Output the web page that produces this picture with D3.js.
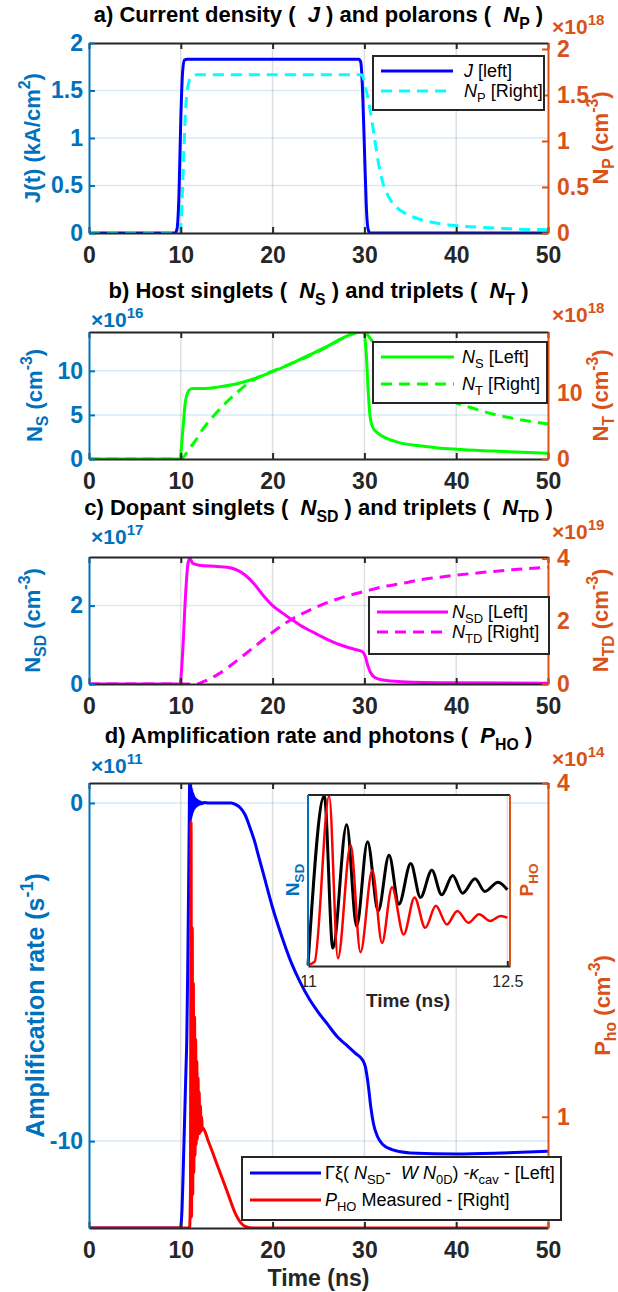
<!DOCTYPE html>
<html>
<head>
<meta charset="utf-8">
<script src="https://cdn.jsdelivr.net/npm/d3@7"></script>
<style>
    body { margin: 0; background: #fff; }
    svg { display: block; font-family: "Liberation Sans", Arial, sans-serif; }
    text { white-space: pre; }
</style>
</head>
<body>
<svg id="fig" width="618" height="1292"></svg>
<script>

// ---------- data (time in ns) ----------
const timeLimits = [0, 50];
const timeTicks = [0, 10, 20, 30, 40, 50];

// a) current density [kA/cm2] and polarons [1e18 cm-3]
const jLimits = [0, 2], jTicks = [0, 0.5, 1, 1.5, 2];
const npLimits = [0, 2.065], npTicks = [0, 0.5, 1, 1.5, 2];
const jCurrent = [[0, 0], [9.4, 0], [9.6, 0.05], [9.8, 0.4], [10.0, 1.2], [10.2, 1.7], [10.4, 1.82], [10.7, 1.83],
    [29.4, 1.83], [29.6, 1.8], [29.8, 1.5], [30.0, 0.9], [30.2, 0.3], [30.4, 0.04], [30.6, 0], [50, 0]];
const npPolarons = [[0, 0], [9.9, 0], [10.1, 0.25], [10.3, 0.8], [10.5, 1.3], [10.7, 1.55], [10.9, 1.65], [11.2, 1.7],
    [11.8, 1.72], [29.7, 1.72], [29.9, 1.68], [30.2, 1.55], [30.6, 1.35], [31.0, 1.1], [31.5, 0.78], [32.0, 0.55],
    [32.6, 0.4], [33.5, 0.28], [34.5, 0.21], [36, 0.15], [38, 0.105], [40, 0.08], [43, 0.06], [46, 0.045], [50, 0.035]];

// b) host singlets [1e16] and triplets [1e18]
const nsLimits = [0, 14.4], nsTicks = [0, 5, 10];
const ntLimits = [0, 19.2], ntTicks = [0, 10];
const nsSinglets = [[0, 0], [9.9, 0], [10.2, 3], [10.5, 6.5], [10.9, 7.8], [11.3, 8.0], [12.5, 8.0], [14, 8.15],
    [16, 8.5], [18, 9.1], [20, 9.9], [22, 10.8], [24, 11.8], [26, 12.8], [28, 13.9], [29.3, 14.4], [29.9, 14.4],
    [30.2, 12], [30.4, 8], [30.6, 5], [30.9, 3.6], [31.5, 2.9], [32.5, 2.3], [34, 1.8], [36, 1.5], [38, 1.25],
    [40, 1.1], [44, 0.9], [50, 0.65]];
const ntTriplets = [[0, 0], [10.0, 0], [10.3, 0.3], [10.8, 1.3], [11.5, 2.6], [12.5, 4.7], [13.5, 6.4], [14.7, 8.2],
    [16, 9.9], [17.5, 11.6], [19, 12.7], [20, 13.3], [22, 14.4], [24, 15.6], [26, 17.0], [28, 18.45], [29.5, 19.15],
    [30, 19.1], [31, 17.6], [32, 16.2], [34, 13.8], [36, 11.8], [38, 10.0], [40, 8.5], [42, 7.6], [44, 6.8],
    [46, 6.2], [48, 5.7], [50, 5.3]];

// c) dopant singlets [1e17] and triplets [1e19]
const nsdLimits = [0, 3.24], nsdTicks = [0, 2];
const ntdLimits = [0, 4.05], ntdTicks = [0, 2, 4];
const nsdSinglets = [[0, 0], [9.9, 0], [10.2, 0.8], [10.5, 2.2], [10.8, 3.1], [11, 3.2], [11.3, 3.08], [12, 3.03],
    [14, 3.0], [15.5, 2.96], [16.2, 2.9], [17, 2.78], [18, 2.55], [19, 2.25], [20, 2.0], [21, 1.82], [22, 1.66],
    [23, 1.5], [24, 1.37], [25, 1.25], [26, 1.13], [27, 1.03], [28, 0.95], [29, 0.88], [29.8, 0.82], [30.1, 0.7],
    [30.4, 0.45], [30.7, 0.28], [31.1, 0.17], [32, 0.1], [34, 0.06], [40, 0.03], [50, 0.02]];
const ntdTriplets = [[0, 0], [11.8, 0], [12.5, 0.08], [14, 0.3], [15.2, 0.54], [17, 0.95], [18.5, 1.3], [20, 1.65],
    [22, 2.05], [24, 2.35], [26, 2.6], [28, 2.8], [30, 2.95], [32, 3.1], [34, 3.2], [36, 3.32], [38, 3.4],
    [40, 3.47], [43, 3.56], [46, 3.64], [50, 3.72]];

// d) amplification rate [1e11 s-1] and photons [1e14 cm-3]
const ampLimits = [-12.57, 0.59], ampTicks = [-10, 0];
const phoLimits = [0, 4], phoTicks = [1, 4];
const ampRate = [[0, -12.57], [9.95, -12.57], [10.1, -12.2], [10.25, -11], [10.4, -9.5], [10.55, -8], [10.65, -7],
    [10.75, -5], [10.85, -2.5], [10.92, -0.5], [10.96, 0.59], [10.99, -0.55], [11.02, 0.59], [11.05, -0.5],
    [11.08, 0.55], [11.11, -0.45], [11.14, 0.45], [11.17, -0.38], [11.2, 0.38], [11.24, -0.3], [11.28, 0.3],
    [11.32, -0.25], [11.36, 0.25], [11.4, -0.2], [11.45, 0.2], [11.5, -0.16], [11.55, 0.15], [11.6, -0.12],
    [11.66, 0.11], [11.72, -0.09], [11.8, 0.08], [11.88, -0.06], [11.96, 0.05], [12.05, -0.04], [12.15, 0.03],
    [12.3, -0.02], [12.5, 0.01], [13, 0], [15.5, 0], [16, -0.05], [16.5, -0.15], [17, -0.35], [17.5, -0.7],
    [18, -1.1], [18.5, -1.6], [19, -2.1], [20, -3.1], [21, -3.95], [22, -4.7], [23, -5.3], [24, -5.8], [25, -6.2],
    [26, -6.55], [27, -6.9], [28, -7.15], [29, -7.4], [29.8, -7.6], [30.1, -7.8], [30.4, -8.3], [30.7, -9.0],
    [31, -9.5], [31.4, -9.85], [32, -10.1], [33, -10.25], [35, -10.35], [40, -10.38], [45, -10.35], [50, -10.3]];
const phoPhotons = [[0, 0], [10.95, 0], [11.05, 0.3], [11.12, 3.65], [11.17, 0.1], [11.25, 2.7], [11.3, 0.3],
    [11.37, 2.2], [11.42, 0.5], [11.5, 1.9], [11.55, 0.65], [11.62, 1.7], [11.68, 0.75], [11.75, 1.5], [11.8, 0.8],
    [11.88, 1.35], [11.94, 0.85], [12.0, 1.22], [12.07, 0.85], [12.14, 1.1], [12.2, 0.87], [12.28, 1.0],
    [12.34, 0.88], [12.4, 0.9], [13, 0.78], [14, 0.56], [15, 0.34], [16, 0.12], [16.5, 0.05], [17, 0.015],
    [18, 0], [50, 0]];

// inset: 11 - 12.5 ns, normalised
const insetTimeLimits = [11, 12.52];
const insetTicks = [11, 12.5];
const insetNsd = [[11, 0], [11.123, 1.0], [11.187, 0.1], [11.291, 0.83], [11.366, 0.23], [11.448, 0.73],
    [11.528, 0.32], [11.61, 0.65], [11.684, 0.36], [11.773, 0.6], [11.846, 0.4], [11.932, 0.56], [12.006, 0.415],
    [12.089, 0.53], [12.163, 0.425], [12.257, 0.51], [12.331, 0.435], [12.43, 0.49], [12.5, 0.445]];
const insetPho = [[11, 0], [11.05, 0.02], [11.159, 1.0], [11.225, 0.04], [11.321, 0.71], [11.395, 0.076],
    [11.484, 0.56], [11.557, 0.13], [11.632, 0.46], [11.72, 0.18], [11.802, 0.40], [11.882, 0.22], [11.962, 0.35],
    [12.045, 0.24], [12.124, 0.32], [12.207, 0.25], [12.287, 0.30], [12.37, 0.26], [12.449, 0.29], [12.5, 0.28]];


// ---------- drawing ----------
const BLUE = "#0072BD", ORANGE = "#D95319", DARK = "#262626";
const svg = d3.select("#fig");
const x = d3.scaleLinear().domain(timeLimits).range([89, 548]);

// text with italic / sub / sup pieces
function rich(sel, parts, size) {
    let shift = 0;
    parts.forEach(([txt, mode]) => {
        const ts = sel.append("tspan").text(txt);
        let target = 0;
        if (mode === "sub") target = size * 0.3;
        if (mode === "sup") target = -size * 0.42;
        ts.attr("dy", target - shift);
        shift = target;
        if (mode === "sub" || mode === "sup") ts.attr("font-size", size * 0.72);
        if (mode === "i") ts.attr("font-style", "italic");
    });
    return sel;
}

function vlabel(g, cx, cy, parts, size, color) {
    const t = g.append("text")
        .attr("transform", `translate(${cx},${cy}) rotate(-90)`)
        .attr("x", 0).attr("y", size * 0.35)
        .attr("text-anchor", "middle")
        .attr("font-size", size).attr("font-weight", "bold").attr("fill", color);
    rich(t, parts, size);
}

function styleAxis(ax, color, size) {
    ax.attr("font-size", null).attr("font-family", null);
    ax.select(".domain").attr("stroke", color).attr("stroke-width", 2);
    ax.selectAll(".tick line").attr("stroke", color).attr("stroke-width", 2);
    ax.selectAll(".tick text").attr("fill", color).attr("font-size", size).attr("font-weight", "bold");
}

const sub = (a, b) => [[a, ""], [b, "sub"]];
const cm3 = [[" (cm", ""], ["-3", "sup"], [")", ""]];

const panels = [
    {
        key: "a", top: 43, bottom: 233, titleY: 22,
        title: [["a) Current density (  ", ""], ["J", "i"], [" ) and polarons (  ", ""], ["N", "i"], ["P", "sub"], [" )", ""]],
        left: {lim: jLimits, ticks: jTicks, label: [["J(t) (kA/cm", ""], ["2", "sup"], [")", ""]], lx: 32, size: 22},
        right: {lim: npLimits, ticks: npTicks, label: sub("N", "P").concat(cm3), lx: 600, exp: "18", ey: 34},
        series: [
            {data: jCurrent, axis: "L", color: "#0000FF", label: [["J", "i"], [" [left]", ""]]},
            {data: npPolarons, axis: "R", color: "#00FFFF", dash: true, label: [["N", "i"], ["P", "sub"], [" [Right]", ""]]}
        ],
        legend: {x0: 373, x1: 544, y0: 56, y1: 110, rows: [71, 91], sx0: 381, sx1: 453, tx: 464}
    },
    {
        key: "b", top: 332, bottom: 459, titleY: 298,
        title: [["b) Host singlets (  ", ""], ["N", "i"], ["S", "sub"], [" ) and triplets (  ", ""], ["N", "i"], ["T", "sub"], [" )", ""]],
        left: {lim: nsLimits, ticks: nsTicks, label: sub("N", "S").concat(cm3), lx: 34, size: 22, exp: "16", ey: 327},
        right: {lim: ntLimits, ticks: ntTicks, label: sub("N", "T").concat(cm3), lx: 600, exp: "18", ey: 322},
        series: [
            {data: nsSinglets, axis: "L", color: "#00FF00", label: [["N", "i"], ["S", "sub"], [" [Left]", ""]]},
            {data: ntTriplets, axis: "R", color: "#00FF00", dash: true, label: [["N", "i"], ["T", "sub"], [" [Right]", ""]]}
        ],
        legend: {x0: 373, x1: 547, y0: 342, y1: 403, rows: [357, 384], sx0: 381, sx1: 454, tx: 462}
    },
    {
        key: "c", top: 557, bottom: 684, titleY: 515,
        title: [["c) Dopant singlets (  ", ""], ["N", "i"], ["SD", "sub"], [" ) and triplets (  ", ""], ["N", "i"], ["TD", "sub"], [" )", ""]],
        left: {lim: nsdLimits, ticks: nsdTicks, label: sub("N", "SD").concat(cm3), lx: 32, size: 22, exp: "17", ey: 544},
        right: {lim: ntdLimits, ticks: ntdTicks, label: sub("N", "TD").concat(cm3), lx: 600, exp: "19", ey: 539},
        series: [
            {data: nsdSinglets, axis: "L", color: "#FF00FF", label: [["N", "i"], ["SD", "sub"], [" [Left]", ""]]},
            {data: ntdTriplets, axis: "R", color: "#FF00FF", dash: true, label: [["N", "i"], ["TD", "sub"], [" [Right]", ""]]}
        ],
        legend: {x0: 369, x1: 549, y0: 597, y1: 654, rows: [612, 632], sx0: 377, sx1: 448, tx: 452}
    },
    {
        key: "d", top: 783, bottom: 1228, titleY: 743,
        title: [["d) Amplification rate and photons (  ", ""], ["P", "i"], ["HO", "sub"], [" )", ""]],
        left: {lim: ampLimits, ticks: ampTicks, label: [["Amplification rate (s", ""], ["-1", "sup"], [")", ""]], lx: 35, size: 25, exp: "11", ey: 773},
        right: {lim: phoLimits, ticks: phoTicks, label: sub("P", "ho").concat(cm3), lx: 602, exp: "14", ey: 766},
        series: [
            {data: ampRate, axis: "L", color: "#0000FF",
                label: [["Γξ( ", ""], ["N", "i"], ["SD", "sub"], ["-  ", ""], ["W", "i"], [" ", ""], ["N", "i"], ["0D", "sub"],
                    [") -", ""], ["κ", "i"], ["cav", "sub"], [" - [Left]", ""]]},
            {data: phoPhotons, axis: "R", color: "#FF0000", label: [["P", "i"], ["HO", "sub"], [" Measured - [Right]", ""]]}
        ],
        legend: {x0: 242, x1: 561, y0: 1157, y1: 1220, rows: [1173, 1200], sx0: 250, sx1: 321, tx: 325},
        inset: true
    }
];

function drawInset(g) {
    const ix = d3.scaleLinear().domain(insetTimeLimits).range([308, 510]);
    const iy = d3.scaleLinear().domain([0, 1]).range([965, 796]);
    g.append("rect").attr("x", 308).attr("y", 795).attr("width", 202).attr("height", 171).attr("fill", "#fff");
    g.selectAll(".igrid").data(insetTicks.slice(1)).join("line")
        .attr("x1", ix).attr("x2", ix).attr("y1", 795).attr("y2", 966)
        .attr("stroke", DARK).attr("stroke-opacity", 0.15).attr("stroke-width", 1.5);

    const line = d3.line().x(d => ix(d[0])).y(d => iy(d[1])).curve(d3.curveMonotoneX);
    g.append("path").datum(insetNsd).attr("d", line)
        .attr("fill", "none").attr("stroke", "#000").attr("stroke-width", 3);
    g.append("path").datum(insetPho).attr("d", line)
        .attr("fill", "none").attr("stroke", "#FF0000").attr("stroke-width", 2.5);

    const bx = g.append("g").attr("transform", "translate(0,966)")
        .call(d3.axisBottom(ix).tickValues(insetTicks).tickFormat(d => String(d)).tickSizeInner(-5).tickSizeOuter(0).tickPadding(10));
    styleAxis(bx, DARK, 16);
    bx.selectAll(".tick text").attr("font-weight", "normal");
    g.append("line").attr("x1", 308).attr("x2", 510).attr("y1", 795).attr("y2", 795).attr("stroke", DARK).attr("stroke-width", 2);
    g.append("line").attr("x1", 308).attr("x2", 308).attr("y1", 795).attr("y2", 966).attr("stroke", BLUE).attr("stroke-width", 2);
    g.append("line").attr("x1", 510).attr("x2", 510).attr("y1", 795).attr("y2", 966).attr("stroke", ORANGE).attr("stroke-width", 2);

    g.append("text").attr("x", 408).attr("y", 1007).attr("text-anchor", "middle")
        .attr("font-size", 19).attr("font-weight", "bold").attr("fill", DARK).text("Time (ns)");
    vlabel(g, 292, 880, sub("N", "SD"), 19, BLUE);
    vlabel(g, 526, 880, sub("P", "HO"), 19, ORANGE);
}

function drawPanel(p) {
    const g = svg.append("g").attr("class", "panel-" + p.key);
    const yL = d3.scaleLinear().domain(p.left.lim).range([p.bottom, p.top]);
    const yR = d3.scaleLinear().domain(p.right.lim).range([p.bottom, p.top]);

    // grid
    g.selectAll(".vgrid").data(timeTicks.slice(1, -1)).join("line")
        .attr("x1", x).attr("x2", x).attr("y1", p.top).attr("y2", p.bottom)
        .attr("stroke", DARK).attr("stroke-opacity", 0.15).attr("stroke-width", 1.5);
    g.selectAll(".hgrid").data(p.left.ticks.filter(v => yL(v) > p.top + 2 && yL(v) < p.bottom - 2)).join("line")
        .attr("x1", 89).attr("x2", 548).attr("y1", yL).attr("y2", yL)
        .attr("stroke", BLUE).attr("stroke-opacity", 0.15).attr("stroke-width", 1.5);

    // lines
    svg.append("clipPath").attr("id", "clip-" + p.key).append("rect")
        .attr("x", 89).attr("y", p.top).attr("width", 459).attr("height", p.bottom - p.top);
    const lines = g.append("g").attr("clip-path", `url(#clip-${p.key})`);
    p.series.forEach(s => {
        const ys = s.axis === "L" ? yL : yR;
        lines.append("path").datum(s.data)
            .attr("fill", "none").attr("stroke", s.color).attr("stroke-width", 3)
            .attr("stroke-dasharray", s.dash ? "11,7" : null)
            .attr("d", d3.line().x(d => x(d[0])).y(d => ys(d[1])).curve(d3.curveMonotoneX));
    });

    // axes
    const bottomAx = g.append("g").attr("transform", `translate(0,${p.bottom})`)
        .call(d3.axisBottom(x).tickValues(timeTicks).tickFormat(d => String(d)).tickSizeInner(-6).tickSizeOuter(0).tickPadding(14));
    styleAxis(bottomAx, DARK, 23);
    const topAx = g.append("g").attr("transform", `translate(0,${p.top})`)
        .call(d3.axisTop(x).tickValues(timeTicks).tickFormat("").tickSizeInner(-6).tickSizeOuter(0));
    styleAxis(topAx, DARK, 23);
    const leftAx = g.append("g").attr("transform", "translate(89,0)")
        .call(d3.axisLeft(yL).tickValues(p.left.ticks).tickFormat(d => String(d)).tickSizeInner(-6).tickSizeOuter(0).tickPadding(6));
    styleAxis(leftAx, BLUE, 23);
    const rightAx = g.append("g").attr("transform", "translate(548,0)")
        .call(d3.axisRight(yR).tickValues(p.right.ticks).tickFormat(d => String(d)).tickSizeInner(-6).tickSizeOuter(0).tickPadding(9));
    styleAxis(rightAx, ORANGE, 23);

    // title + axis labels
    const cy = (p.top + p.bottom) / 2;
    rich(g.append("text").attr("x", 318.5).attr("y", p.titleY).attr("text-anchor", "middle")
        .attr("font-size", 22).attr("font-weight", "bold").attr("fill", "#000"), p.title, 22);
    vlabel(g, p.left.lx, cy, p.left.label, p.left.size, BLUE);
    vlabel(g, p.right.lx, cy, p.right.label, 22, ORANGE);

    // x10^n multipliers
    if (p.left.exp) {
        rich(g.append("text").attr("x", 91).attr("y", p.left.ey).attr("font-size", 21).attr("fill", BLUE).attr("font-weight", "bold"),
            [["×10", ""], [p.left.exp, "sup"]], 21);
    }
    rich(g.append("text").attr("x", 552).attr("y", p.right.ey).attr("font-size", 21).attr("fill", ORANGE).attr("font-weight", "bold"),
        [["×10", ""], [p.right.exp, "sup"]], 21);

    if (p.key === "d") {
        g.append("text").attr("x", 318.5).attr("y", 1286).attr("text-anchor", "middle")
            .attr("font-size", 23).attr("font-weight", "bold").attr("fill", DARK).text("Time (ns)");
    }
    if (p.inset) drawInset(g.append("g").attr("class", "inset"));

    // legend
    const L = p.legend;
    const lg = g.append("g").attr("class", "legend");
    lg.append("rect").attr("x", L.x0).attr("y", L.y0).attr("width", L.x1 - L.x0).attr("height", L.y1 - L.y0)
        .attr("fill", "#fff").attr("stroke", DARK).attr("stroke-width", 2);
    p.series.forEach((s, i) => {
        const ry = L.rows[i];
        lg.append("line").attr("x1", L.sx0).attr("x2", L.sx1).attr("y1", ry).attr("y2", ry)
            .attr("stroke", s.color).attr("stroke-width", 3).attr("stroke-dasharray", s.dash ? "11,7" : null);
        rich(lg.append("text").attr("x", L.tx).attr("y", ry + 6).attr("font-size", 18).attr("fill", "#000"), s.label, 18);
    });
}

panels.forEach(drawPanel);

</script>
</body>
</html>
